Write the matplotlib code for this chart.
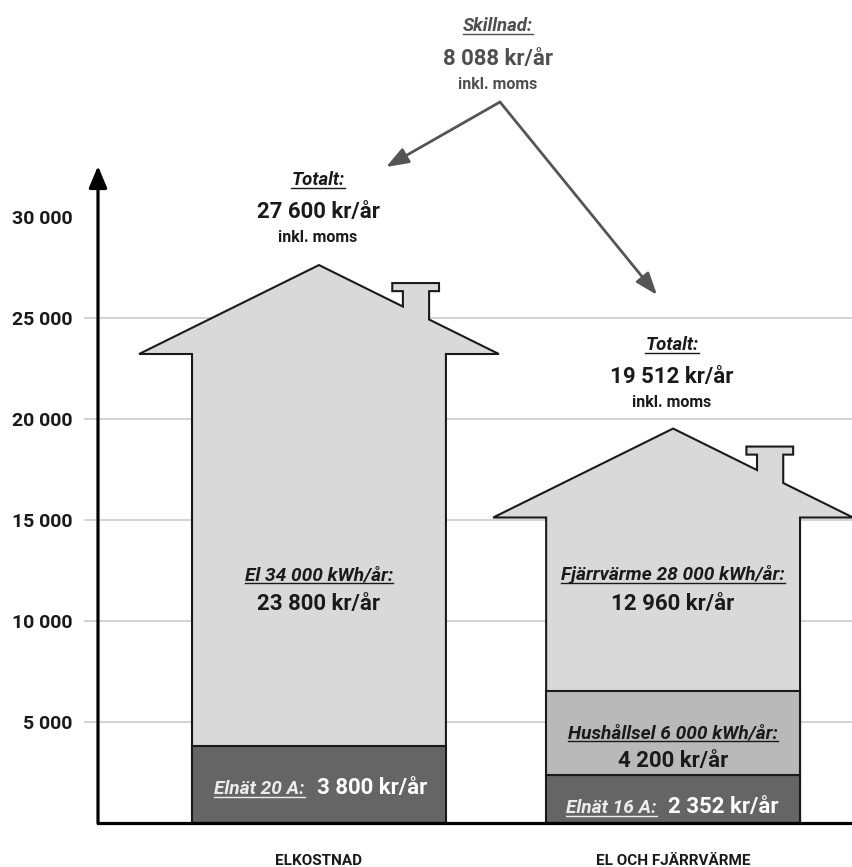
import numpy as np
import matplotlib
matplotlib.use("Agg")
import matplotlib.pyplot as plt
from matplotlib.lines import Line2D

plt.rcParams['font.family'] = ['Roboto', 'DejaVu Sans']

W, H = 853, 867

# data
categories = ["ELKOSTNAD", "EL OCH FJÄRRVÄRME"]
totals = [27600, 19512]
elnat = [3800, 2352]          # bottom segment
hushallsel = [0, 4200]        # middle segment
uppvarmning = [23800, 12960]  # el / fjärrvärme, up to the roof top
yticks = [5000, 10000, 15000, 20000, 25000, 30000]
ytick_labels = ["5 000", "10 000", "15 000", "20 000", "25 000", "30 000"]

ink = '#1a1a1a'
grey_txt = '#4f4f4f'
light = '#d9d9d9'
mid = '#b9b9b9'
dark = '#656565'

fig = plt.figure(figsize=(W / 100, H / 100), dpi=100)
ax = fig.add_axes([98 / W, 44 / H, (W - 98) / W, 657 / H])
x = np.arange(len(categories))
ax.set_xlim(-0.624, 1.508)
ax.set_ylim(0, 32500)

# gridlines (not at 30 000), starting a bit left of the axis
for y in yticks[:-1]:
    ax.axhline(y, xmin=-13 / 755, xmax=1, color='#c6c6c6', lw=1.1, zorder=0, clip_on=False)

ax.set_xticks([])
ax.set_yticks(yticks, ytick_labels)
ax.tick_params(axis='y', length=0, pad=18.5, labelsize=14)
for t in ax.get_yticklabels():
    t.set_fontweight('bold')
    t.set_color(ink)
for s in ['top', 'right', 'left']:
    ax.spines[s].set_visible(False)
ax.spines['bottom'].set_linewidth(2.3)
ax.spines['bottom'].set_zorder(10)
ax.annotate('', xy=(0, 1), xycoords='axes fraction', xytext=(0, 0),
            arrowprops=dict(arrowstyle='-|>,head_length=0.6,head_width=0.25', lw=2.3, color='k',
                            mutation_scale=22, shrinkA=0, shrinkB=0), zorder=10)

# house shapes
body_w = 0.717
roof_half = 0.508
roof_h = 4400
for i, c in enumerate(x):
    peak = totals[i]
    eave = peak - roof_h
    ry = lambda dx: peak - abs(dx) / roof_half * roof_h
    xs = [c - body_w / 2, c - body_w / 2, c - roof_half, c,
          c + 0.237, c + 0.237, c + 0.207, c + 0.207, c + 0.339, c + 0.339, c + 0.311, c + 0.311,
          c + roof_half, c + body_w / 2, c + body_w / 2]
    ys = [0, eave, eave, peak,
          ry(0.237), peak - 1290, peak - 1290, peak - 890, peak - 890, peak - 1290, peak - 1290, ry(0.311),
          eave, eave, 0]
    ax.fill(xs, ys, fc=light, ec=ink, lw=1.5, zorder=2, clip_on=False, joinstyle='miter')

ax.bar(x, elnat, width=body_w, color=dark, edgecolor=ink, lw=1.5, zorder=3)
hx = [xi for xi, h in zip(x, hushallsel) if h > 0]
hh = [h for h in hushallsel if h > 0]
hb = [e for e, h in zip(elnat, hushallsel) if h > 0]
ax.bar(hx, hh, bottom=hb, width=body_w, color=mid, edgecolor=ink, lw=1.5, zorder=3)

# texts
under = []


def label(px, py, s, size, style='normal', color=ink, ha='center', ul=False, weight='bold'):
    t = fig.text(px / W, 1 - py / H, s, ha=ha, va='baseline', fontsize=size,
                 fontweight=weight, fontstyle=style, color=color)
    if ul:
        under.append((t, py))
    return t


def kr(v):
    return f"{v:,}".replace(",", " ") + " kr/år"


cx = [319, 673]
it_size = 13.8

# skillnad
label(498, 31, "Skillnad:", 13.4, style='italic', color=grey_txt, ul=True)
label(498, 65, kr(totals[0] - totals[1]), 16, color=grey_txt)
label(498, 89, "inkl. moms", 11.5, color=grey_txt)
for tip in [(386, 167), (657, 295)]:
    ax.annotate('', xy=(tip[0], H - tip[1]), xycoords='figure pixels',
                xytext=(500, H - 102), textcoords='figure pixels',
                arrowprops=dict(arrowstyle='-|>,head_length=0.9,head_width=0.33', color='#555555',
                                lw=2, mutation_scale=15, shrinkA=0, shrinkB=0))

# totals
tot_base = [(185, 218, 242), (350, 383, 407)]
for i in range(2):
    b = tot_base[i]
    label(cx[i] - 1, b[0], "Totalt:", 13.4, style='italic', ul=True)
    label(cx[i] - 1, b[1], kr(totals[i]), 16)
    label(cx[i] - 1, b[2], "inkl. moms", 11.5)

# big segment
label(cx[0], 580, "El 34 000 kWh/år:", it_size, style='italic', ul=True)
label(cx[0], 610, kr(uppvarmning[0]), 16)
label(cx[1], 580, "Fjärrvärme 28 000 kWh/år:", it_size, style='italic', ul=True)
label(cx[1], 610, kr(uppvarmning[1]), 16)

# hushållsel
label(cx[1], 738, "Hushållsel 6 000 kWh/år:", it_size, style='italic', ul=True)
label(cx[1], 767, kr(hushallsel[1]), 16)

# elnät
label(305, 794, "Elnät 20 A:", it_size, style='italic', color='#ececec', ha='right', ul=True)
label(317, 794, kr(elnat[0]), 16, color='white', ha='left')
label(657, 813, "Elnät 16 A:", it_size, style='italic', color='#ececec', ha='right', ul=True)
label(668, 813, kr(elnat[1]), 16, color='white', ha='left')

# categories
for i in range(2):
    label(cx[i], 865, categories[i], 11)

fig.canvas.draw()
r = fig.canvas.get_renderer()
for t, py in under:
    bb = t.get_window_extent(r)
    yy = (H - py - 3) / H
    fig.add_artist(Line2D([bb.x0 / W, bb.x1 / W], [yy, yy], transform=fig.transFigure,
                          color=t.get_color(), lw=1))

fig.savefig("out.png", dpi=100)
